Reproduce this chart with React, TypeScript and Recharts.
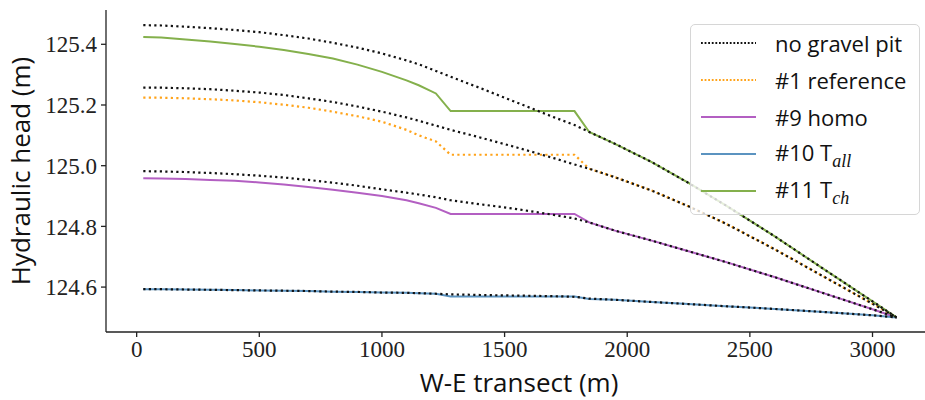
import { LineChart, Line, XAxis, YAxis } from "recharts";

const xs = [27, 100, 200, 300, 400, 500, 600, 700, 800, 900, 1000, 1100, 1150, 1220, 1280, 1400, 1550, 1700, 1785, 1845, 1950, 2100, 2250, 2400, 2600, 2800, 3000, 3098];

// "no gravel pit" runs, one per scenario
const noPit1 = [125.463, 125.462, 125.458, 125.453, 125.447, 125.440, 125.430, 125.419, 125.405, 125.389, 125.370, 125.347, 125.334, 125.312, 125.293, 125.256, 125.208, 125.160, 125.134, 125.111, 125.072, 125.012, 124.943, 124.870, 124.768, 124.660, 124.553, 124.5];
const noPit2 = [125.257, 125.257, 125.255, 125.252, 125.247, 125.241, 125.233, 125.222, 125.210, 125.195, 125.178, 125.159, 125.148, 125.132, 125.118, 125.093, 125.060, 125.025, 125.004, 124.990, 124.962, 124.918, 124.866, 124.810, 124.725, 124.635, 124.545, 124.5];
const noPit3 = [124.982, 124.981, 124.979, 124.976, 124.972, 124.967, 124.961, 124.953, 124.944, 124.934, 124.922, 124.911, 124.905, 124.896, 124.886, 124.873, 124.857, 124.838, 124.826, 124.813, 124.786, 124.753, 124.718, 124.683, 124.633, 124.580, 124.527, 124.5];
const noPit4 = [124.593, 124.593, 124.592, 124.591, 124.590, 124.589, 124.588, 124.587, 124.585, 124.584, 124.582, 124.581, 124.580, 124.578, 124.576, 124.574, 124.572, 124.570, 124.568, 124.562, 124.558, 124.551, 124.544, 124.537, 124.528, 124.518, 124.507, 124.5];

const ref1 = [125.224, 125.224, 125.222, 125.219, 125.215, 125.209, 125.201, 125.191, 125.178, 125.163, 125.145, 125.118, 125.100, 125.080, 125.036, 125.036, 125.036, 125.036, 125.036, 124.990, 124.962, 124.918, 124.866, 124.810, 124.725, 124.635, 124.545, 124.5];
const homo9 = [124.959, 124.958, 124.956, 124.953, 124.950, 124.945, 124.938, 124.930, 124.921, 124.911, 124.900, 124.886, 124.876, 124.861, 124.841, 124.841, 124.841, 124.841, 124.841, 124.813, 124.786, 124.753, 124.718, 124.683, 124.633, 124.580, 124.527, 124.5];
const tAll10 = [124.593, 124.593, 124.592, 124.591, 124.590, 124.589, 124.588, 124.587, 124.585, 124.584, 124.582, 124.581, 124.580, 124.578, 124.569, 124.569, 124.569, 124.569, 124.569, 124.561, 124.558, 124.551, 124.544, 124.537, 124.528, 124.518, 124.507, 124.5];
const tCh11 = [125.424, 125.422, 125.416, 125.409, 125.401, 125.392, 125.381, 125.368, 125.353, 125.333, 125.309, 125.281, 125.265, 125.238, 125.180, 125.180, 125.180, 125.180, 125.180, 125.111, 125.072, 125.012, 124.943, 124.870, 124.768, 124.660, 124.553, 124.5];

const xTicks = [0, 500, 1000, 1500, 2000, 2500, 3000];
const yTicks = [124.6, 124.8, 125.0, 125.2, 125.4];

const legendItems = [
  { label: "no gravel pit", sub: "", color: "#111", dotted: true },
  { label: "#1 reference", sub: "", color: "#ffa31a", dotted: true },
  { label: "#9 homo", sub: "", color: "#b35fc2", dotted: false },
  { label: "#10 T", sub: "all", color: "#5b93c0", dotted: false },
  { label: "#11 T", sub: "ch", color: "#84b04c", dotted: false },
];

const data = xs.map((x, i) => ({
  x,
  noPit1: noPit1[i],
  noPit2: noPit2[i],
  noPit3: noPit3[i],
  noPit4: noPit4[i],
  ref1: ref1[i],
  homo9: homo9[i],
  tAll10: tAll10[i],
  tCh11: tCh11[i],
}));

const serifTick = { fontFamily: "Liberation Serif", fontSize: 23, fill: "#222" };
const DOTS = "2.2 3.3";

export default function App() {
  return (
    <div style={{ position: "absolute", left: 0, top: 0, width: 925, height: 400, background: "#fff" }}>
      <LineChart width={925} height={400} data={data} margin={{ top: 10, right: 0, bottom: 0, left: 10 }}>
        <XAxis
          type="number"
          dataKey="x"
          domain={[-125, 3214]}
          ticks={xTicks}
          allowDataOverflow
          height={68}
          tickSize={5}
          tickMargin={4}
          tick={serifTick}
          stroke="#222"
          strokeWidth={1.3}
        />
        <XAxis xAxisId="top" orientation="top" type="number" dataKey="x" domain={[-125, 3214]} tick={false} tickLine={false} height={0} stroke="#222" strokeWidth={1.3} />
        <YAxis
          type="number"
          domain={[124.452, 125.513]}
          ticks={yTicks}
          allowDataOverflow
          width={96}
          tickSize={5}
          tickMargin={4}
          tick={serifTick}
          tickFormatter={(v: number) => v.toFixed(1)}
          stroke="#222"
          strokeWidth={1.3}
        />
        <Line type="linear" dataKey="ref1" stroke="#ffa31a" strokeWidth={2.2} strokeDasharray={DOTS} dot={false} isAnimationActive={false} />
        <Line type="linear" dataKey="homo9" stroke="#b35fc2" strokeWidth={2} dot={false} isAnimationActive={false} />
        <Line type="linear" dataKey="tAll10" stroke="#5b93c0" strokeWidth={2} dot={false} isAnimationActive={false} />
        <Line type="linear" dataKey="tCh11" stroke="#84b04c" strokeWidth={2} dot={false} isAnimationActive={false} />
        <Line type="linear" dataKey="noPit1" stroke="#111" strokeWidth={2.2} strokeDasharray={DOTS} dot={false} isAnimationActive={false} />
        <Line type="linear" dataKey="noPit2" stroke="#111" strokeWidth={2.2} strokeDasharray={DOTS} dot={false} isAnimationActive={false} />
        <Line type="linear" dataKey="noPit3" stroke="#111" strokeWidth={2.2} strokeDasharray={DOTS} dot={false} isAnimationActive={false} />
        <Line type="linear" dataKey="noPit4" stroke="#111" strokeWidth={2.2} strokeDasharray={DOTS} dot={false} isAnimationActive={false} />
      </LineChart>

      {/* axis titles */}
      <svg width={925} height={400} style={{ position: "absolute", left: 0, top: 0, pointerEvents: "none" }}>
        <text x={30} y={171} transform="rotate(-90 30 171)" textAnchor="middle" fontFamily="Open Sans" fontSize={26} fill="#111">
          Hydraulic head (m)
        </text>
        <text x={519} y={392} textAnchor="middle" fontFamily="Open Sans" fontSize={26} fill="#111">
          W-E transect (m)
        </text>
      </svg>

      {/* legend */}
      <div
        style={{
          position: "absolute",
          left: 690,
          top: 24,
          width: 230,
          height: 191,
          boxSizing: "border-box",
          border: "1px solid #d6d6d6",
          borderRadius: 5,
          background: "rgba(255,255,255,0.8)",
          fontFamily: "Open Sans",
          fontSize: 22,
          color: "#111",
        }}
      >
        {legendItems.map((it, i) => (
          <div key={it.label + it.sub} style={{ position: "absolute", left: 0, top: 1 + i * 37, height: 34, display: "flex", alignItems: "center" }}>
            <svg width={84} height={34} style={{ display: "block" }}>
              <line x1={10} x2={65} y1={17} y2={17} stroke={it.color} strokeWidth={it.dotted ? 2 : 2.2} strokeDasharray={it.dotted ? "1.8 1.8" : undefined} />
            </svg>
            <span style={{ whiteSpace: "nowrap" }}>
              {it.label}
              {it.sub && (
                <sub style={{ fontFamily: "Liberation Serif", fontStyle: "italic", fontSize: 18, verticalAlign: "-6px" }}>{it.sub}</sub>
              )}
            </span>
          </div>
        ))}
      </div>
    </div>
  );
}
